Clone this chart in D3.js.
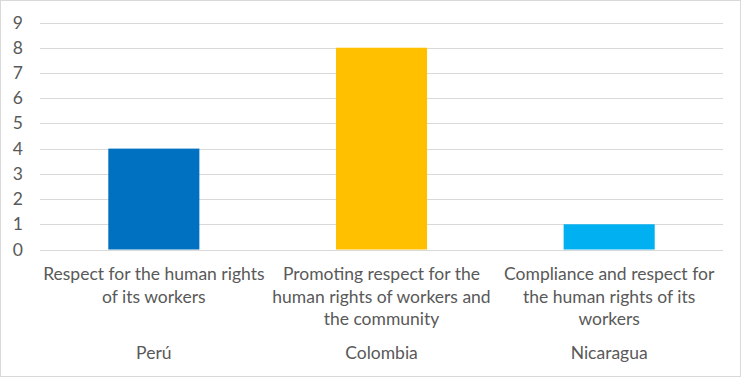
<!DOCTYPE html>
<html>

<head>
    <title>Human rights bar chart</title>
    <script src="https://cdn.jsdelivr.net/npm/d3@7"></script>
    <style>
        body { margin: 0; background: #fff; }
        text { font-family: Lato, 'Open Sans', sans-serif; fill: #595959; }
    </style>
</head>

<body>
    <svg width="741" height="377" id="mainsvg"></svg>
    <script>
        // data
        const countries = ['Perú', 'Colombia', 'Nicaragua'];
        const labels = [
            ['Respect for the human rights', 'of its workers'],
            ['Promoting respect for the', 'human rights of workers and', 'the community'],
            ['Compliance and respect for', 'the human rights of its', 'workers']
        ];
        const values = [4, 8, 1];
        const colors = ['#0070C0', '#FFC000', '#00B0F0'];
        const yTicks = [0, 1, 2, 3, 4, 5, 6, 7, 8, 9];

        const svg = d3.select('svg');
        const width = +svg.attr('width');
        const height = +svg.attr('height');
        const margin = { left: 40, right: 18, top: 22.5, bottom: 127.5 };
        const fs = '17.5px';

        // chart border
        svg.append('rect')
            .attr('x', 0.5).attr('y', 0.5)
            .attr('width', width - 1).attr('height', height - 1)
            .attr('fill', '#fff').attr('stroke', '#d9d9d9');

        const x = d3.scaleBand()
            .domain(countries)
            .range([margin.left, width - margin.right])
            .paddingInner(0.6).paddingOuter(0.3);

        const y = d3.scaleLinear()
            .domain([0, 9])
            .range([height - margin.bottom, margin.top]);

        // gridlines
        svg.append('g').selectAll('line').data(yTicks).join('line')
            .attr('x1', margin.left).attr('x2', width - margin.right)
            .attr('y1', d => Math.round(y(d)) + 0.5).attr('y2', d => Math.round(y(d)) + 0.5)
            .attr('stroke', '#d9d9d9').attr('stroke-width', 1);

        // y labels
        svg.append('g').selectAll('text').data(yTicks).join('text')
            .attr('x', 23).attr('y', d => y(d) + 6)
            .attr('text-anchor', 'end')
            .style('font-size', fs)
            .text(d => d);

        // bars
        svg.append('g').selectAll('rect').data(values).join('rect')
            .attr('x', (d, i) => x(countries[i]))
            .attr('width', x.bandwidth())
            .attr('y', d => y(d))
            .attr('height', d => y(0) - y(d))
            .attr('fill', (d, i) => colors[i]);

        // category labels
        const cx = c => x(c) + x.bandwidth() / 2;
        const lab = svg.append('g').selectAll('text').data(labels).join('text')
            .attr('text-anchor', 'middle')
            .style('font-size', fs);
        lab.selectAll('tspan').data((d, i) => d.map(t => ({ t, i }))).join('tspan')
            .attr('x', d => cx(countries[d.i]))
            .attr('y', (d, j) => 280 + j * 22.5)
            .text(d => d.t);

        // country labels
        svg.append('g').selectAll('text').data(countries).join('text')
            .attr('x', d => cx(d)).attr('y', 359)
            .attr('text-anchor', 'middle')
            .style('font-size', fs)
            .text(d => d);
    </script>
</body>

</html>
